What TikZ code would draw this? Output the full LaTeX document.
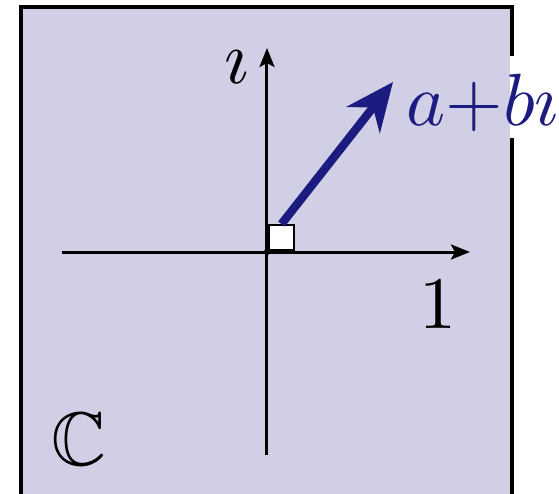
\documentclass[tikz,border=0pt]{standalone}
\usepackage{amssymb}
\usetikzlibrary{arrows.meta}

\definecolor{fondo}{RGB}{209,207,229}
\definecolor{azulvec}{RGB}{27,27,128}

\begin{document}
\begin{tikzpicture}[x=0.5pt,y=-0.5pt] % 1 px = 0.5 pt, eje y hacia abajo

        \useasboundingbox (0,0) rectangle (559,494);
        \clip (0,0) rectangle (559,494);

        % Plano complejo (recuadro)
        \filldraw[fill=fondo, draw=black, line width=2pt] (21,7) rectangle (512,530);
        % Hueco del borde detras de la etiqueta
        \fill[white] (510,56) rectangle (516,138);

        % Ejes
        \coordinate (O)  at (267,252);
        \coordinate (Xi) at (62,252);
        \coordinate (Xf) at (470,252);
        \coordinate (Yi) at (267,455);
        \coordinate (Yf) at (267,48);
        \draw[line width=1.5pt, -{Stealth[length=9.5pt,width=7.5pt,inset=2pt]}] (Xi) -- (Xf);
        \draw[line width=1.5pt, -{Stealth[length=9.5pt,width=7.5pt,inset=2pt]}] (Yi) -- (Yf);
        \fill (O) circle[radius=1.6pt];

        % Cuadrado en el origen
        \node[draw, fill=white, line width=1pt, inner sep=0pt, minimum size=12.5pt, anchor=south west] (cuadro) at (268,251) {};

        % Vector a+bi
        \coordinate (punta) at (393,82);
        \draw[azulvec, line width=4.2pt, -{Stealth[length=24pt,width=21pt]}] (cuadro.north) -- (punta);

        % Etiquetas (escaladas)
        \node[anchor=base, inner sep=0pt, scale=3.8] (etiy) at (237,83) {$\imath$};
        \node[anchor=base, inner sep=0pt, scale=3.7] (etix) at (438,328) {$1$};
        \node[anchor=base, inner sep=0pt, scale=3.8] (etiC) at (79,465) {$\mathbb{C}$};
        \node[anchor=base west, inner sep=0pt, text=azulvec, scale=3.7] (etiz) at (405,125) {$a{+}b\imath$};

\end{tikzpicture}
\end{document}
